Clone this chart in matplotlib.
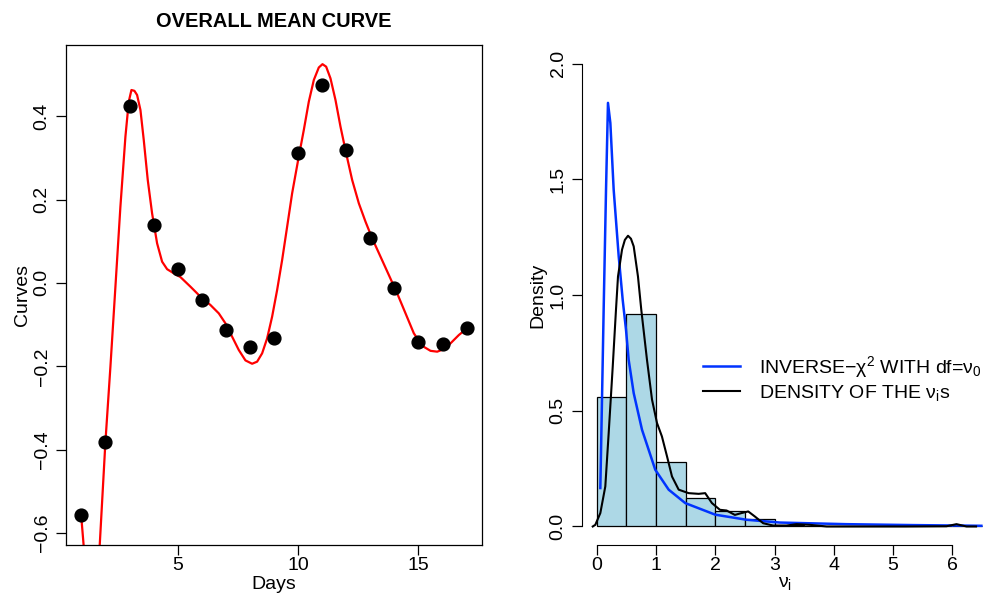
import matplotlib
matplotlib.use("Agg")
import matplotlib.pyplot as plt

plt.rcParams["font.family"] = ["Liberation Sans", "DejaVu Sans"]
plt.rcParams["mathtext.fontset"] = "custom"
plt.rcParams["mathtext.rm"] = "Liberation Sans"
plt.rcParams["mathtext.it"] = "Liberation Sans"
plt.rcParams["font.size"] = 14

# ---------------- left panel data ----------------
days = list(range(1, 18))
mean_curve = [-0.558, -0.382, 0.424, 0.138, 0.033, -0.042, -0.113, -0.154, -0.133,
              0.311, 0.475, 0.318, 0.107, -0.013, -0.141, -0.146, -0.108]

smooth_x = [1.0, 1.05, 1.1, 1.25, 1.45, 1.62, 1.762, 1.997, 2.205, 2.413, 2.620, 2.828,
            2.967, 3.078, 3.202, 3.313, 3.452, 3.590, 3.756, 3.936, 4.144, 4.352, 4.560,
            4.837, 5.114, 5.529, 5.945, 6.360, 6.706, 6.983, 7.260, 7.537, 7.814, 8.091,
            8.299, 8.507, 8.715, 8.922, 9.130, 9.338, 9.546, 9.753, 10.003, 10.238, 10.446,
            10.654, 10.861, 11.014, 11.166, 11.346, 11.554, 11.762, 11.997, 12.247, 12.524,
            12.801, 13.078, 13.424, 13.770, 14.116, 14.463, 14.809, 15.155, 15.501, 15.778,
            16.055, 16.332, 16.679, 16.997]
smooth_y = [-0.565, -0.6, -0.635, -0.7, -0.72, -0.69, -0.628, -0.382, -0.201, -0.009, 0.183,
            0.351, 0.435, 0.463, 0.461, 0.451, 0.415, 0.343, 0.247, 0.167, 0.095, 0.051,
            0.033, 0.023, 0.014, -0.009, -0.033, -0.053, -0.073, -0.097, -0.129, -0.161,
            -0.186, -0.194, -0.189, -0.169, -0.133, -0.081, -0.017, 0.055, 0.135, 0.215,
            0.295, 0.367, 0.435, 0.487, 0.517, 0.525, 0.519, 0.491, 0.439, 0.375, 0.311,
            0.247, 0.191, 0.147, 0.107, 0.063, 0.019, -0.025, -0.073, -0.121, -0.151,
            -0.163, -0.165, -0.159, -0.145, -0.125, -0.110]

# ---------------- right panel data ----------------
bin_edges = [0.0, 0.5, 1.0, 1.5, 2.0, 2.5, 3.0, 3.5, 4.0, 4.5, 5.0, 5.5, 6.0, 6.5]
bin_density = [0.559, 0.918, 0.278, 0.122, 0.068, 0.032, 0.006, 0.004, 0.001, 0.001,
               0.0, 0.001, 0.003]

invchi_x = [0.061, 0.09, 0.118, 0.157, 0.19, 0.23, 0.286, 0.371, 0.438, 0.494, 0.539,
            0.624, 0.764, 0.988, 1.214, 1.494, 2.0, 2.528, 3.09, 4.21, 5.34, 6.49]
invchi_y = [0.166, 0.56, 0.95, 1.455, 1.83, 1.743, 1.455, 1.167, 0.98, 0.85, 0.72,
            0.576, 0.418, 0.245, 0.159, 0.101, 0.051, 0.029, 0.017, 0.010, 0.006, 0.003]

kde_x = [-0.067, -0.024, 0.061, 0.145, 0.202, 0.27, 0.325, 0.359, 0.427, 0.475, 0.528,
         0.578, 0.624, 0.696, 0.752, 0.848, 0.933, 1.017, 1.10, 1.186, 1.27, 1.383,
         1.551, 1.72, 1.83, 1.944, 2.079, 2.191, 2.331, 2.444, 2.556, 2.669, 2.809,
         2.978, 3.2, 3.37, 3.6, 3.88, 4.5, 5.2, 5.9, 6.07, 6.24, 6.4]
kde_y = [0.0, 0.007, 0.058, 0.173, 0.404, 0.69, 0.936, 1.08, 1.196, 1.238, 1.256,
         1.243, 1.21, 1.08, 0.936, 0.72, 0.548, 0.447, 0.389, 0.303, 0.216, 0.159,
         0.144, 0.141, 0.144, 0.101, 0.072, 0.069, 0.050, 0.058, 0.065, 0.043, 0.014,
         0.004, 0.004, 0.010, 0.007, 0.0, 0.0, 0.0, 0.001, 0.01, 0.0, 0.0]

fig = plt.figure(figsize=(9.9, 5.97), dpi=100)

# ---------------- left: overall mean curve ----------------
ax1 = fig.add_axes([66 / 990, 1 - 545 / 597, 416 / 990, 500 / 597])
ax1.plot(smooth_x, smooth_y, color="#ff0000", lw=1.6, zorder=2)
ax1.scatter(days, mean_curve, s=85, color="black", zorder=3)
ax1.set_xlim(0.36, 17.64)
ax1.set_ylim(-0.629, 0.571)
ax1.set_xticks([5, 10, 15])
ax1.set_yticks([-0.6, -0.4, -0.2, 0.0, 0.2, 0.4])
ax1.set_title("OVERALL MEAN CURVE", fontsize=14.4, fontweight="bold", pad=13)
ax1.set_xlabel("Days", labelpad=1)
ax1.set_ylabel("Curves", labelpad=2)
for s in ax1.spines.values():
    s.set_linewidth(0.9)

# ---------------- right: histogram of nu_i ----------------
ax2 = fig.add_axes([581.9 / 990, 1 - 545 / 597, 406 / 990, 500 / 597])
widths = [bin_edges[i + 1] - bin_edges[i] for i in range(len(bin_density))]
ax2.bar(bin_edges[:-1], bin_density, width=widths, align="edge",
        color="#add8e6", edgecolor="black", linewidth=0.9, zorder=1)
ax2.plot(invchi_x, invchi_y, color="#0033ff", lw=1.8, zorder=3,
         label="INVERSE\u2212\u03c7$^2$ WITH df=\u03bd$_0$")
ax2.plot(kde_x, kde_y, color="black", lw=1.5, zorder=4,
         label="DENSITY OF THE \u03bd$_\\mathrm{i}$s")
ax2.set_xlim(-0.25, 6.6)
ax2.set_ylim(-0.08, 2.08)
ax2.set_xticks([0, 1, 2, 3, 4, 5, 6])
ax2.set_yticks([0.0, 0.5, 1.0, 1.5, 2.0])
ax2.spines["top"].set_visible(False)
ax2.spines["right"].set_visible(False)
ax2.spines["left"].set_bounds(0, 2)
ax2.spines["bottom"].set_bounds(0, 6)
ax2.set_xlabel("\u03bd$_\\mathrm{i}$", labelpad=0)
ax2.set_ylabel("Density", labelpad=2)
ax2.legend(loc="center left", bbox_to_anchor=(703 / 990, 1 - 378.4 / 597),
           bbox_transform=fig.transFigure, frameon=False, borderpad=0,
           borderaxespad=0, handlelength=1.9, handletextpad=1.0, labelspacing=0.15)

for ax in (ax1, ax2):
    ax.tick_params(direction="out", length=7, width=0.9, pad=2)
    ax.tick_params(axis="y", labelrotation=90, pad=4)
    for lab in ax.get_yticklabels():
        lab.set_va("center")

fig.savefig("out.png", dpi=100)
